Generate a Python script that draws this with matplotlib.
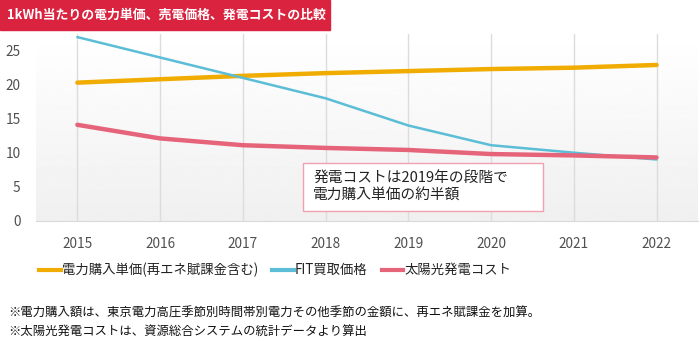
import numpy as np
import matplotlib
matplotlib.use("Agg")
import matplotlib.pyplot as plt
from matplotlib.patches import Rectangle
from matplotlib.lines import Line2D

plt.rcParams['font.family'] = ['Noto Sans CJK JP', 'DejaVu Sans']

years = ['2015', '2016', '2017', '2018', '2019', '2020', '2021', '2022']
buy_price = [20.3, 20.8, 21.3, 21.7, 22.0, 22.3, 22.5, 22.9]   # 電力購入単価(再エネ賦課金含む)
fit_price = [27.0, 24.0, 21.0, 18.0, 14.0, 11.1, 10.0, 9.0]    # FIT買取価格
pv_cost = [14.1, 12.1, 11.1, 10.7, 10.4, 9.8, 9.6, 9.3]        # 太陽光発電コスト
y_ticks = [0, 5, 10, 15, 20, 25]

series_names = ['電力購入単価(再エネ賦課金含む)', 'FIT買取価格', '太陽光発電コスト']
series_colors = ['#f0ac00', '#5bbdd6', '#e6647a']
series_widths = [3.2, 1.8, 3.2]

title = '1kWh当たりの電力単価、売電価格、発電コストの比較'
note = '発電コストは2019年の段階で\n電力購入単価の約半額'
footnotes = ['※電力購入額は、東京電力高圧季節別時間帯別電力その他季節の金額に、再エネ賦課金を加算。',
             '※太陽光発電コストは、資源総合システムの統計データより算出']

fig = plt.figure(figsize=(7, 3.42), dpi=100)
ax = fig.add_axes([0.0514, 0.3547, 0.9456, 0.5468])

x = np.arange(len(years))
ax.set_xlim(-0.5, len(years) - 0.5)
ax.set_ylim(0, 27.5)

# soft vertical gradient background
grad = np.linspace(1.0, 0.94, 100).reshape(-1, 1)
ax.imshow(grad, cmap='gray', vmin=0, vmax=1, aspect='auto',
          extent=[-0.5, len(years) - 0.5, 0, 27.5], zorder=0, origin='upper')

for xi in x:
    ax.axvline(xi, color='#dcdcdc', lw=1, zorder=1)

for vals, name, c, w in zip([buy_price, fit_price, pv_cost], series_names,
                            series_colors, series_widths):
    ax.plot(x, vals, color=c, lw=w, label=name, zorder=3, solid_capstyle='round')

ax.set_xticks(x)
ax.set_xticklabels(years)
ax.set_yticks(y_ticks)
ax.tick_params(axis='both', length=0, labelsize=9.8, colors='#505050')
ax.tick_params(axis='x', pad=12)
ax.tick_params(axis='y', pad=11)
for s in ['top', 'right', 'left']:
    ax.spines[s].set_visible(False)
ax.spines['bottom'].set_color('#d9d9d9')

# annotation box
ax.add_patch(Rectangle((2.73, 1.45), 2.9, 7.05, fc='white', ec='#f0a0ae', lw=1, zorder=4))
ax.text(2.85, 5.0, note, fontsize=10.6, color='#222222', va='center', ha='left',
        linespacing=1.1, zorder=5)

# title bar
fig.patches.append(Rectangle((0, 1 - 30 / 342), 330 / 700, 30 / 342,
                             transform=fig.transFigure, color='#d9233f', zorder=0))
fig.text(7 / 700, 1 - 15 / 342, title, color='white', fontsize=9.3,
         fontweight='bold', va='center', ha='left')

# legend
handles = [Line2D([], [], color=c, lw=3) for c in series_colors]
fig.legend(handles, series_names, loc='center left', bbox_to_anchor=(34 / 700, 1 - 270 / 342),
           ncol=3, frameon=False, fontsize=9.6, handlelength=1.6, handletextpad=0.1,
           columnspacing=1.05, borderaxespad=0, labelcolor='#222222')

for i, t in enumerate(footnotes):
    fig.text(8 / 700, 1 - (313 + 18 * i) / 342, t, fontsize=8.9, color='#111111',
             va='center', ha='left')

fig.savefig('out.png', dpi=100)
